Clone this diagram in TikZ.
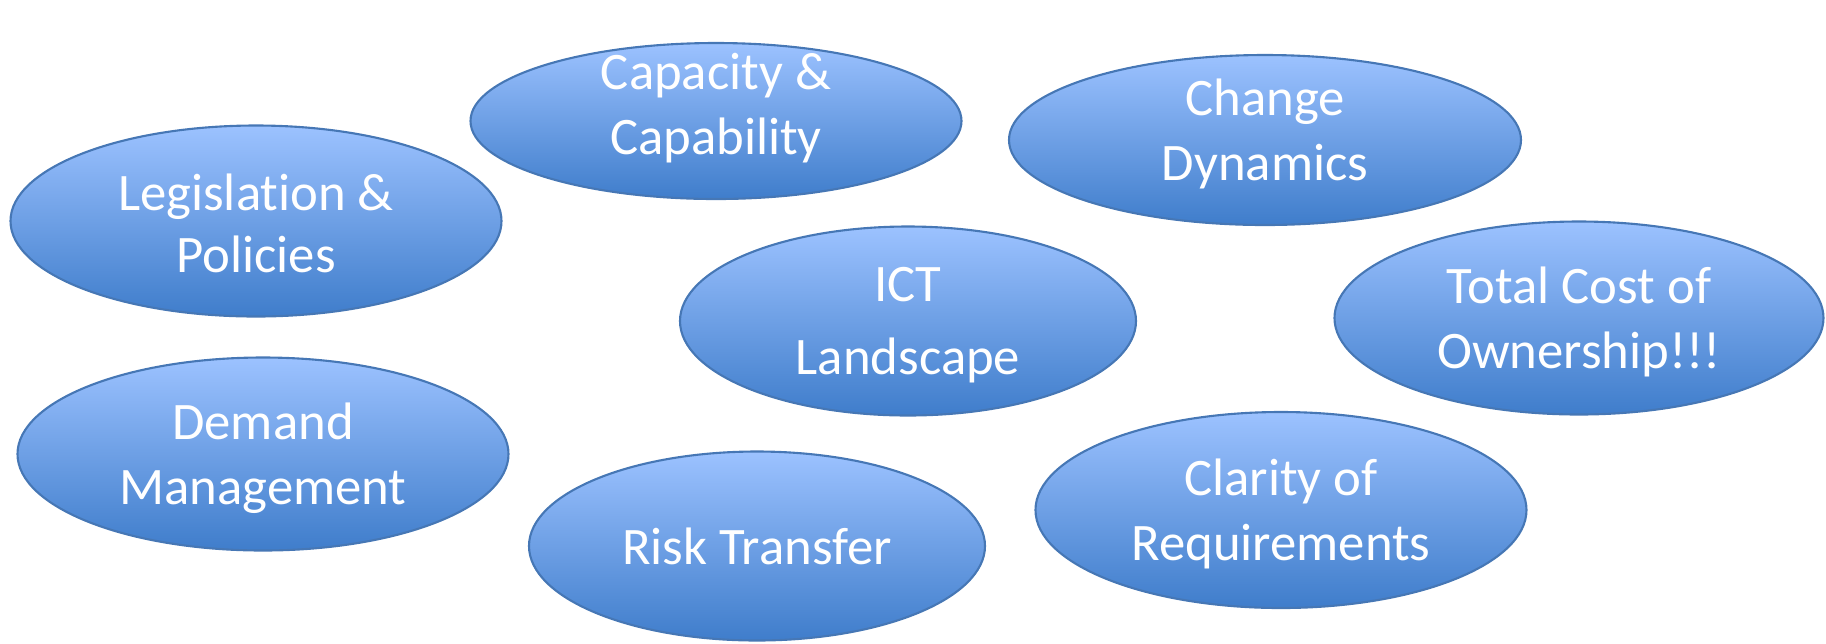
\documentclass[tikz,border=0pt]{standalone}
\usepackage{fontspec}
\setmainfont{Carlito}[RawFeature={-liga;-clig;-dlig;-calt}]
\usetikzlibrary{shapes.geometric}
\definecolor{bubbletop}{HTML}{9CC2FF}
\definecolor{bubblebot}{HTML}{3F7DCB}
\definecolor{bubbleline}{HTML}{4677B5}
\tikzset{bubble/.style={ellipse, draw=bubbleline, line width=0.6pt, top color=bubbletop, bottom color=bubblebot, inner sep=0pt},
	bubbletext/.style={text=white, align=center, inner sep=0pt, text depth=0pt, font=\fontsize{15}{18.5}\selectfont}}
\begin{document}
\begin{tikzpicture}
			\useasboundingbox (0, 0) rectangle (18.26, -6.43);
			\node[bubble, minimum width=4.91cm, minimum height=1.56cm] at (7.16, -1.21) (capacity) {};
			\node[bubble, minimum width=5.12cm, minimum height=1.70cm] at (12.65, -1.40) (change) {};
			\node[bubble, minimum width=4.91cm, minimum height=1.91cm] at (2.56, -2.21) (legislation) {};
			\node[bubble, minimum width=4.56cm, minimum height=1.89cm] at (9.08, -3.21) (ict) {};
			\node[bubble, minimum width=4.89cm, minimum height=1.93cm] at (15.79, -3.18) (tco) {};
			\node[bubble, minimum width=4.91cm, minimum height=1.93cm] at (2.63, -4.54) (demand) {};
			\node[bubble, minimum width=4.56cm, minimum height=1.89cm] at (7.57, -5.46) (risk) {};
			\node[bubble, minimum width=4.91cm, minimum height=1.96cm] at (12.81, -5.10) (clarity) {};
			\node[bubbletext] at ([yshift=0.17cm]capacity.center) (capacitytext) {Capacity \&\\Capability};
			\node[bubbletext] at ([yshift=0.10cm]change.center) (changetext) {Change\\Dynamics};
			\node[bubbletext] at ([yshift=-0.02cm]legislation.center) (legislationtext) {Legislation \&\\[-0.03cm]Policies};
			\node[bubbletext] at (ict.center) (icttext) {ICT\\[0.08cm]Landscape};
			\node[bubbletext] at (tco.center) (tcotext) {Total Cost of\\Ownership!!!};
			\node[bubbletext] at (demand.center) (demandtext) {Demand\\Management};
			\node[bubbletext] at (risk.center) (risktext) {Risk Transfer};
			\node[bubbletext] at (clarity.center) (claritytext) {Clarity of\\Requirements};
		\end{tikzpicture}
\end{document}
